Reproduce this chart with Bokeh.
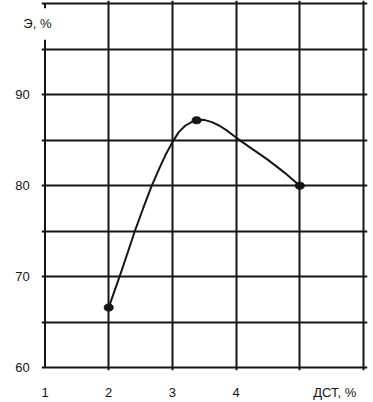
from bokeh.plotting import figure
from bokeh.models import FixedTicker
from bokeh.embed import file_html
from bokeh.resources import INLINE

# Data
marker_x = [2.0, 3.38, 5.0]
marker_y = [66.6, 87.2, 80.0]

curve_x = [2.0, 2.2, 2.41, 2.54, 2.67, 2.80, 2.90, 3.0, 3.1, 3.2, 3.3, 3.38, 3.5, 3.62, 3.74, 3.87, 4.0, 4.2, 4.49, 4.75, 5.0]
curve_y = [66.6, 70.6, 75.0, 77.5, 79.9, 82.0, 83.5, 84.8, 85.9, 86.6, 87.0, 87.2, 87.25, 87.0, 86.6, 86.0, 85.3, 84.3, 82.9, 81.5, 80.0]

x_ticks = [1, 2, 3, 4, 5.55]
x_tick_labels = {1: "1", 2: "2", 3: "3", 4: "4", 5.55: "ДСТ, %"}
y_ticks = [60, 70, 80, 90, 97.8]
PAD = "\u00a0" * 6
y_tick_labels = {60: "60" + PAD, 70: "70" + PAD, 80: "80" + PAD, 90: "90" + PAD, 97.8: "Э, %"}
x_grid = [2, 3, 4, 5, 6]
y_grid = [60, 65, 70, 75, 80, 85, 90, 95, 100]

INK = "#151515"
FONT = "Liberation Sans"

p = figure(width=373, height=402, x_range=(0.945, 6.063), y_range=(59.677, 100.377),
           output_backend="svg", toolbar_location=None,
           min_border_left=41, min_border_right=6, min_border_top=0, min_border_bottom=24)
p.outline_line_color = None
p.background_fill_color = "white"
p.border_fill_color = "white"

p.xgrid.ticker = FixedTicker(ticks=x_grid)
p.ygrid.ticker = FixedTicker(ticks=y_grid)
for g in (p.xgrid, p.ygrid):
    g.grid_line_color = INK
    g.grid_line_width = 2
    g.grid_line_alpha = 1

# left border with a gap behind the axis title
p.segment(x0=[1, 1], y0=[60, 99.52], x1=[1, 1], y1=[96.07, 100], line_color=INK, line_width=2)

for ax in (p.xaxis, p.yaxis):
    ax.axis_line_color = None
    ax.major_tick_line_color = None
    ax.minor_tick_line_color = None
    ax.major_label_text_font = FONT
    ax.major_label_text_font_size = "13px"
    ax.major_label_text_color = INK

p.xaxis.ticker = FixedTicker(ticks=x_ticks)
p.xaxis.major_label_overrides = x_tick_labels
p.xaxis.major_label_standoff = 8
p.yaxis.ticker = FixedTicker(ticks=y_ticks)
p.yaxis.major_label_overrides = y_tick_labels
p.yaxis.major_label_standoff = -16

p.line(curve_x, curve_y, line_color=INK, line_width=2)
p.ellipse(marker_x, marker_y, width=9, height=7, width_units="screen", height_units="screen",
          fill_color=INK, line_color=INK)

open("out.html", "w").write(file_html(p, INLINE))
